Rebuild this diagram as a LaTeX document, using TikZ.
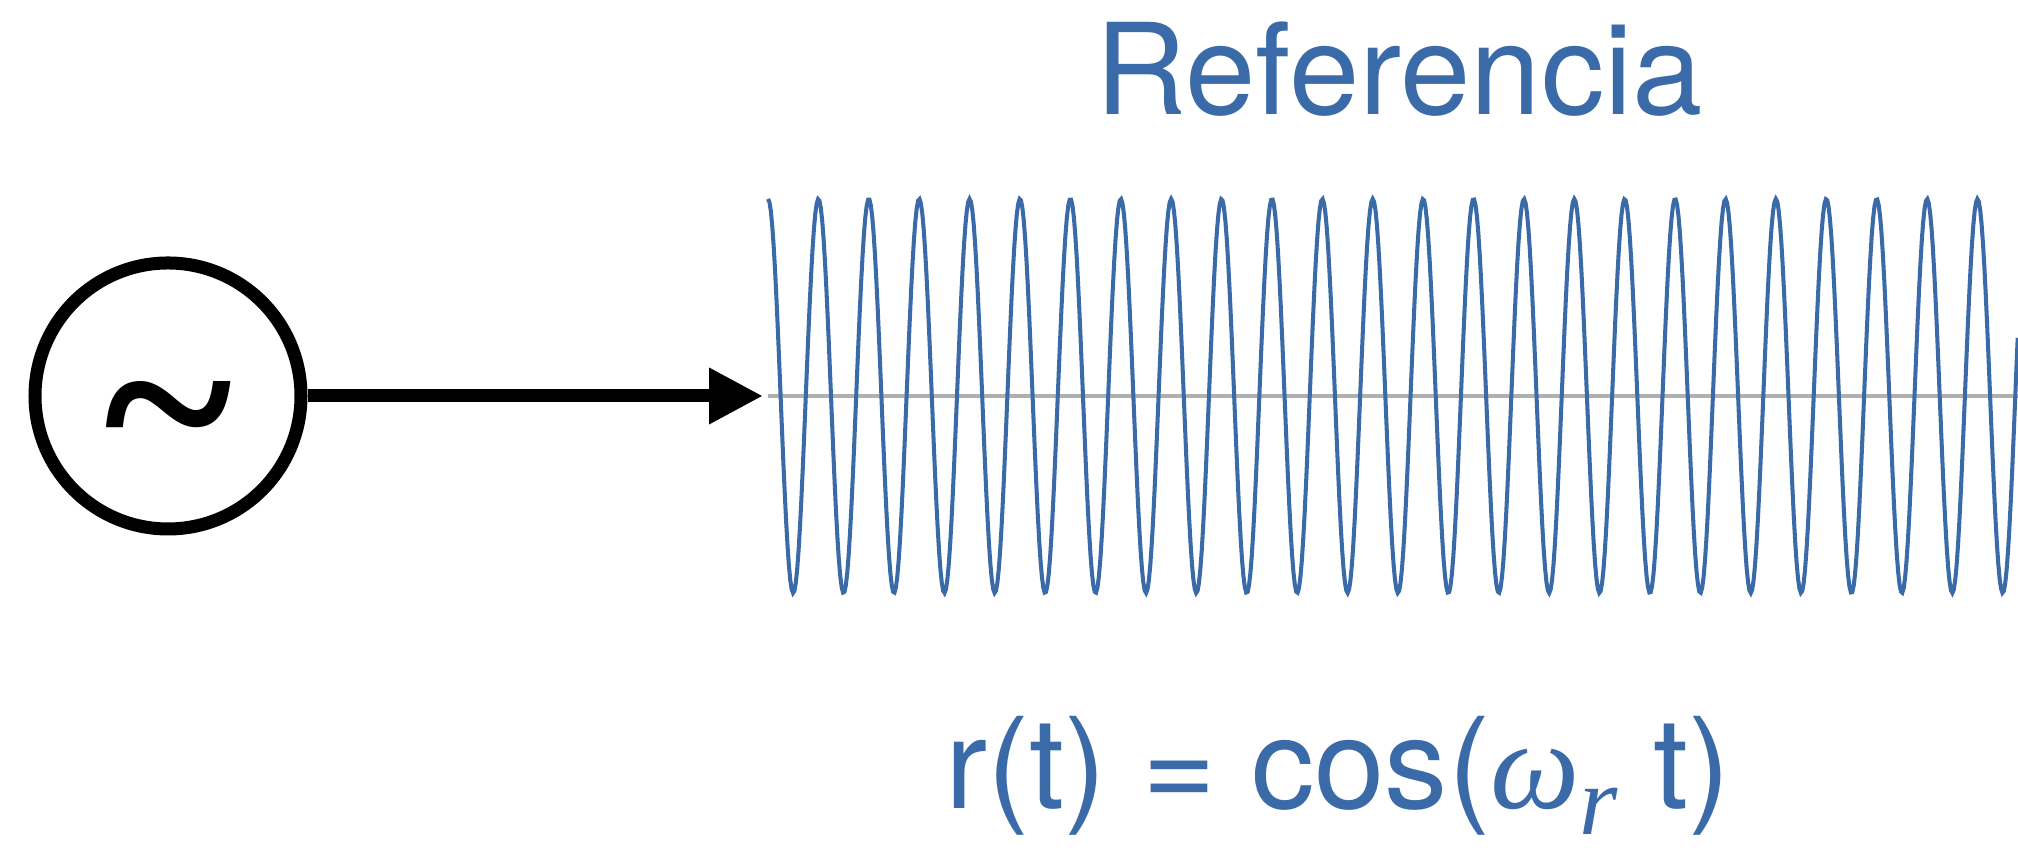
\documentclass[tikz,border=0pt]{standalone}
\usepackage{fontspec}
\setmainfont{TeX Gyre Heros}
\newfontfamily\serifglyph{Liberation Serif}
\usepackage{tikz}
\usetikzlibrary{arrows.meta,positioning}
\definecolor{refblue}{RGB}{58,107,168}
\definecolor{zerogray}{RGB}{176,176,176}

\begin{document}
\begin{tikzpicture}[
    gen/.style={circle, draw=black, line width=3.7pt, minimum size=2.66cm, inner sep=0pt},
    feed/.style={-{Triangle[length=5.4mm, width=5.3mm]}, line width=3.7pt},
    wave/.style={refblue, line width=1.15pt},
    sigtext/.style={text=refblue, font=\fontsize{36}{40}\selectfont, inner sep=0pt},
]

    % Frame
    \useasboundingbox (0,0) rectangle (20.18,8.5);

    % Generator
    \node[gen] (gen) at (1.68,4.54) {};
    \node[inner sep=0pt, font=\serifglyph\bfseries\fontsize{70}{70}\selectfont] (sym) at ([yshift=-0.38cm]gen.center) {\textasciitilde};

    % Arrow into the signal
    \coordinate (tip) at (7.63,4.54);
    \draw[feed] (gen) -- (tip);

    % Zero line
    \coordinate (zstart) at (7.68,4.54);
    \coordinate (zend) at (20.18,4.54);
    \draw[zerogray, line width=1.35pt] (zstart) -- (zend);

    % Reference signal, period 0.504
    \draw[wave, domain=7.68:20.18, samples=900]
        plot (\x, {4.54 + 1.97*cos(360*(\x-7.68)/0.504)});

    % Labels
    \node[sigtext, anchor=base] (title) at (13.99,7.35) {Referencia};
    \node[sigtext, anchor=base] (eq) at (13.38,0.41)
        {r(t) = cos({\serifglyph\itshape ω}\raisebox{-0.26cm}{\serifglyph\itshape\fontsize{28}{30}\selectfont r} t)};

\end{tikzpicture}
\end{document}
